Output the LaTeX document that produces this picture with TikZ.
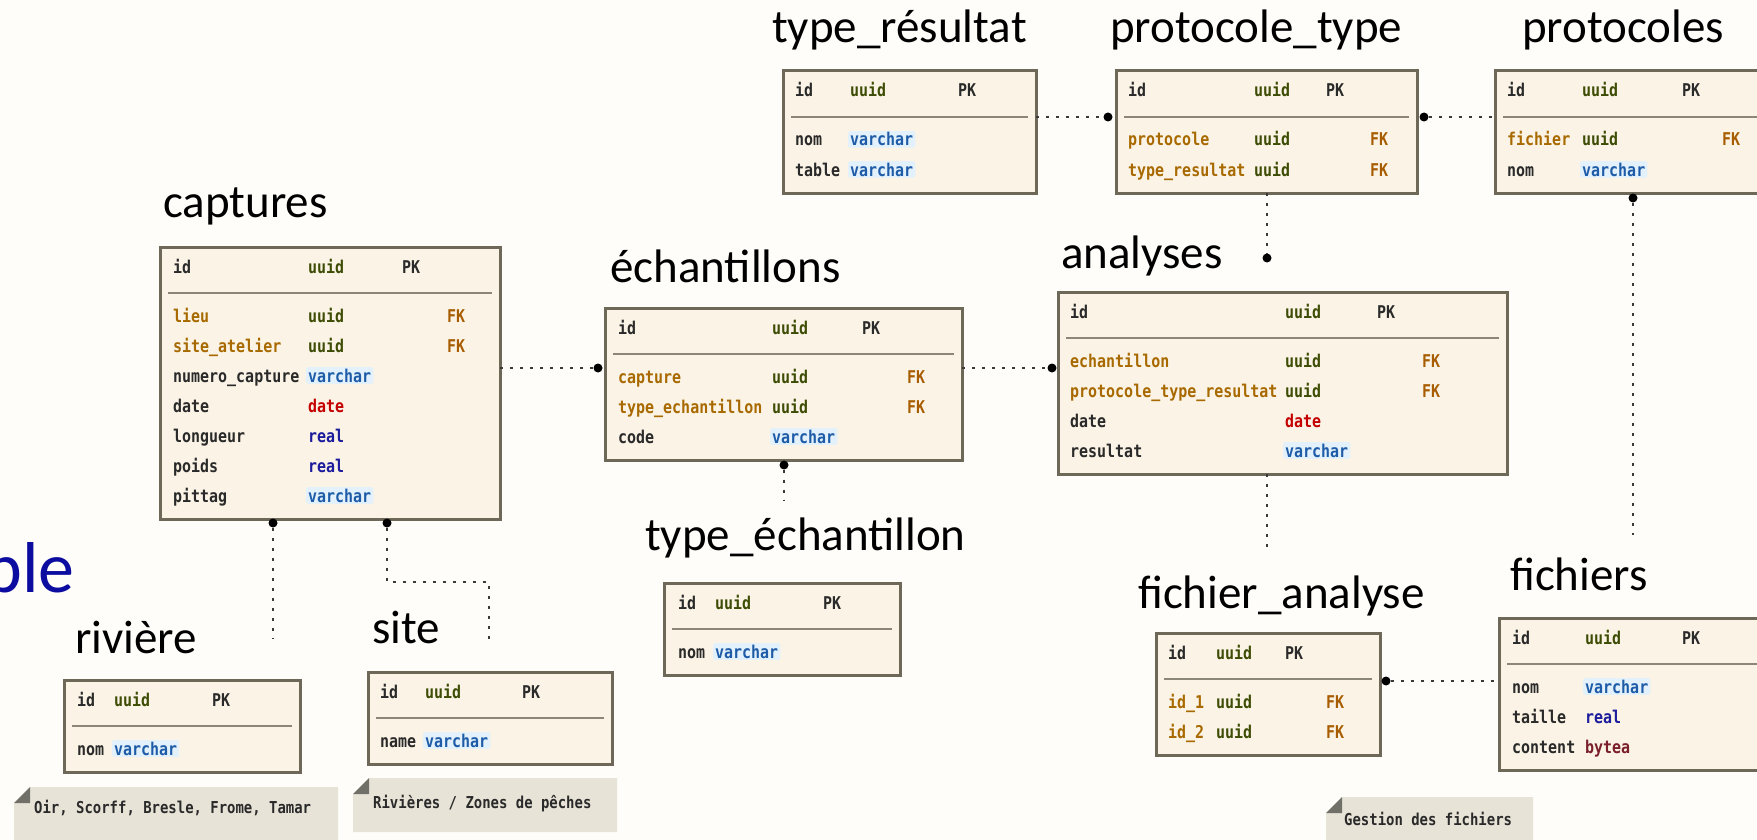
\documentclass[tikz,border=0pt]{standalone}
\usepackage{fontspec}
\setmainfont{Carlito}
\newfontfamily\tmono{DejaVu Sans Mono}[FakeStretch=0.85]
\usetikzlibrary{calc}

\definecolor{bgc}{HTML}{FEFDF9}
\definecolor{tblfill}{HTML}{FBF4E6}
\definecolor{tbldraw}{HTML}{6E6858}
\definecolor{sepc}{HTML}{8C8678}
\definecolor{fkname}{HTML}{A86A00}
\definecolor{uuidc}{HTML}{3E4D05}
\definecolor{pkc}{HTML}{2A2A2A}
\definecolor{fkc}{HTML}{A85C00}
\definecolor{varcharc}{HTML}{1F5CA8}
\definecolor{vglow}{HTML}{E2F1FB}
\definecolor{datec}{HTML}{C40000}
\definecolor{realc}{HTML}{1C1C9C}
\definecolor{byteac}{HTML}{7A1F2B}
\definecolor{notefill}{HTML}{E8E3D7}
\definecolor{notefold}{HTML}{707069}
\definecolor{conncol}{HTML}{3A3A3A}
\definecolor{slideblue}{HTML}{0C0CA0}

\newcounter{cellno}
% table frame with the separator under the key row
\newcommand\tablebox[5]{%
  \node[tbl, minimum width=#4pt, minimum height=#5pt] (#1) at (#2,#3) {};
  \draw[sepline] ($(#1.north west)+(8,46)$) -- ($(#1.north east)+(-8,46)$);}
% one text cell, placed from the table's top-left corner
\newcommand\cell[5]{\stepcounter{cellno}%
  \node[fld, text=#4] (cell\arabic{cellno}) at ($(#1.north west)+(#2,#3)$) {#5};}
% a varchar cell, with its light halo
\newcommand\vcell[3]{\stepcounter{cellno}%
  \node[fld, vch] (cell\arabic{cellno}) at ($(#1.north west)+(#2,#3)$) {varchar};}
% a field: name and type
\newcommand\frow[8]{\cell{#1}{#2}{#4}{#5}{#6}\cell{#1}{#3}{#4}{#7}{#8}}
% a field typed varchar
\newcommand\vrow[4]{\cell{#1}{#2}{#4}{pkc}{#3}\vcell{#1}{#3x}{#4}}
% a folded note
\newcommand\note[7]{%
  \fill[notefill] (#2+16,#3) -- (#4,#3) -- (#4,#5) -- (#2,#5) -- (#2,#3+16) -- cycle;
  \fill[notefold] (#2,#3+16) -- (#2+16,#3) -- (#2+16,#3+16) -- cycle;
  \node[notetxt] (#1) at (#6,#7) {\notetext};}

\begin{document}
\begin{tikzpicture}[x=1pt,y=-1pt,
  tbl/.style={draw=tbldraw, line width=3pt, fill=tblfill, inner sep=0pt, outer sep=0pt, anchor=north west},
  sepline/.style={draw=sepc, line width=2pt},
  fld/.style={font=\fontsize{17.6}{20}\selectfont\tmono\bfseries, anchor=base west, inner sep=0pt},
  vch/.style={text=varcharc, fill=vglow, inner xsep=2pt, inner ysep=1.5pt, xshift=-2pt, rounded corners=2pt},
  notetxt/.style={font=\fontsize{16.4}{19}\selectfont\tmono\bfseries, anchor=base west, inner sep=0pt, text=pkc},
  ttl/.style={font=\fontsize{47}{56}\selectfont, anchor=base west, inner sep=0pt, text=black},
  conn/.style={draw=conncol, line width=2pt, dash pattern=on 3pt off 7pt},
  dotnode/.style={circle, fill=black, inner sep=0pt, minimum size=9pt}]
\clip (0,0) rectangle (1757,840);
\fill[bgc] (0,0) rectangle (1757,840);

% end of the slide title, cut at the left edge
\node[font=\fontsize{72}{80}\selectfont, text=slideblue, anchor=base east, inner sep=0pt] (slidettl) at (75,592) {ble};

% ---- tables ----
\tablebox{captures}{160}{247}{340}{272}
\cell{captures}{13}{26}{pkc}{id}\cell{captures}{148}{26}{uuidc}{uuid}\cell{captures}{242}{26}{pkc}{PK}
\frow{captures}{13}{148}{75}{fkname}{lieu}{uuidc}{uuid}\cell{captures}{287}{75}{fkc}{FK}
\frow{captures}{13}{148}{105}{fkname}{site\_atelier}{uuidc}{uuid}\cell{captures}{287}{105}{fkc}{FK}
\cell{captures}{13}{135}{pkc}{numero\_capture}\vcell{captures}{148}{135}
\frow{captures}{13}{148}{165}{pkc}{date}{datec}{date}
\frow{captures}{13}{148}{195}{pkc}{longueur}{realc}{real}
\frow{captures}{13}{148}{225}{pkc}{poids}{realc}{real}
\cell{captures}{13}{255}{pkc}{pittag}\vcell{captures}{148}{255}

\tablebox{ech}{605}{308}{357}{152}
\cell{ech}{13}{26}{pkc}{id}\cell{ech}{167}{26}{uuidc}{uuid}\cell{ech}{257}{26}{pkc}{PK}
\frow{ech}{13}{167}{75}{fkname}{capture}{uuidc}{uuid}\cell{ech}{302}{75}{fkc}{FK}
\frow{ech}{13}{167}{105}{fkname}{type\_echantillon}{uuidc}{uuid}\cell{ech}{302}{105}{fkc}{FK}
\cell{ech}{13}{135}{pkc}{code}\vcell{ech}{167}{135}

\tablebox{analyses}{1058}{292}{449}{182}
\cell{analyses}{12}{26}{pkc}{id}\cell{analyses}{227}{26}{uuidc}{uuid}\cell{analyses}{319}{26}{pkc}{PK}
\frow{analyses}{12}{227}{75}{fkname}{echantillon}{uuidc}{uuid}\cell{analyses}{364}{75}{fkc}{FK}
\frow{analyses}{12}{227}{105}{fkname}{protocole\_type\_resultat}{uuidc}{uuid}\cell{analyses}{364}{105}{fkc}{FK}
\frow{analyses}{12}{227}{135}{pkc}{date}{datec}{date}
\cell{analyses}{12}{165}{pkc}{resultat}\vcell{analyses}{227}{165}

\tablebox{tresult}{783}{71}{253}{122}
\cell{tresult}{12}{26}{pkc}{id}\cell{tresult}{67}{26}{uuidc}{uuid}\cell{tresult}{175}{26}{pkc}{PK}
\cell{tresult}{12}{75}{pkc}{nom}\vcell{tresult}{67}{75}
\cell{tresult}{12}{105}{pkc}{table}\vcell{tresult}{67}{105}

\tablebox{ptype}{1116}{71}{301}{122}
\cell{ptype}{12}{26}{pkc}{id}\cell{ptype}{138}{26}{uuidc}{uuid}\cell{ptype}{210}{26}{pkc}{PK}
\frow{ptype}{12}{138}{75}{fkname}{protocole}{uuidc}{uuid}\cell{ptype}{254}{75}{fkc}{FK}
\frow{ptype}{12}{138}{105}{fkname}{type\_resultat}{uuidc}{uuid}\cell{ptype}{254}{105}{fkc}{FK}

\tablebox{protocoles}{1495}{71}{290}{122}
\cell{protocoles}{12}{26}{pkc}{id}\cell{protocoles}{87}{26}{uuidc}{uuid}\cell{protocoles}{187}{26}{pkc}{PK}
\frow{protocoles}{12}{87}{75}{fkname}{fichier}{uuidc}{uuid}\cell{protocoles}{227}{75}{fkc}{FK}
\cell{protocoles}{12}{105}{pkc}{nom}\vcell{protocoles}{87}{105}

\tablebox{techant}{664}{583}{236}{92}
\cell{techant}{14}{26}{pkc}{id}\cell{techant}{51}{26}{uuidc}{uuid}\cell{techant}{159}{26}{pkc}{PK}
\cell{techant}{14}{75}{pkc}{nom}\vcell{techant}{51}{75}

\tablebox{riviere}{64}{680}{236}{92}
\cell{riviere}{13}{26}{pkc}{id}\cell{riviere}{50}{26}{uuidc}{uuid}\cell{riviere}{148}{26}{pkc}{PK}
\cell{riviere}{13}{75}{pkc}{nom}\vcell{riviere}{50}{75}

\tablebox{site}{368}{672}{244}{92}
\cell{site}{12}{26}{pkc}{id}\cell{site}{57}{26}{uuidc}{uuid}\cell{site}{154}{26}{pkc}{PK}
\cell{site}{12}{75}{pkc}{name}\vcell{site}{57}{75}

\tablebox{fanalyse}{1156}{633}{224}{122}
\cell{fanalyse}{12}{26}{pkc}{id}\cell{fanalyse}{60}{26}{uuidc}{uuid}\cell{fanalyse}{129}{26}{pkc}{PK}
\frow{fanalyse}{12}{60}{75}{fkname}{id\_1}{uuidc}{uuid}\cell{fanalyse}{170}{75}{fkc}{FK}
\frow{fanalyse}{12}{60}{105}{fkname}{id\_2}{uuidc}{uuid}\cell{fanalyse}{170}{105}{fkc}{FK}

\tablebox{fichiers}{1499}{618}{290}{152}
\cell{fichiers}{13}{26}{pkc}{id}\cell{fichiers}{86}{26}{uuidc}{uuid}\cell{fichiers}{183}{26}{pkc}{PK}
\cell{fichiers}{13}{75}{pkc}{nom}\vcell{fichiers}{86}{75}
\frow{fichiers}{13}{86}{105}{pkc}{taille}{realc}{real}
\frow{fichiers}{13}{86}{135}{pkc}{content}{byteac}{bytea}

% ---- relation end points ----
\node[dotnode] (d1) at ($(ech.north west)+(-7,60)$) {};
\node[dotnode] (d2) at ($(analyses.north west)+(-6,76)$) {};
\node[dotnode] (d3) at ($(ech.south west)+(179,5)$) {};
\node[dotnode] (d4) at ($(captures.south west)+(113,4)$) {};
\node[dotnode] (d5) at ($(captures.south west)+(227,4)$) {};
\node[dotnode] (d6) at ($(ptype.north west)+(-8,46)$) {};
\node[dotnode] (d7) at ($(ptype.north east)+(7,46)$) {};
\node[dotnode] (d8) at ($(analyses.north west)+(209,-34)$) {};
\node[dotnode] (d10) at ($(protocoles.south west)+(138,5)$) {};
\node[dotnode] (d11) at ($(fanalyse.north east)+(6,48)$) {};
\coordinate (teEnd) at ($(techant.north west)+(120,-83)$);
\coordinate (rivEnd) at ($(riviere.north west)+(209,-42)$);
\coordinate (siteEnd) at ($(site.north west)+(121,-29)$);
\coordinate (faEnd) at ($(fanalyse.north west)+(111,-83)$);
\coordinate (fiEnd) at ($(fichiers.north west)+(134,-83)$);

% ---- relations ----
\draw[conn] ($(captures.north east)+(0,121)$) -- (d1);
\draw[conn] ($(ech.north east)+(0,60)$) -- (d2);
\draw[conn] (d3) -- (teEnd);
\draw[conn] (d4) -- (rivEnd);
\draw[conn] (d5) -- ($(d5)+(0,59)$) -| (siteEnd);
\draw[conn] ($(tresult.north east)+(0,46)$) -- (d6);
\draw[conn] (d7) -- ($(protocoles.north west)+(0,46)$);
\draw[conn] ($(ptype.south west)+(151,0)$) -- (d8);
\draw[conn] ($(analyses.south west)+(209,0)$) -- (faEnd);
\draw[conn] (d10) -- (fiEnd);
\draw[conn] (d11) -- ($(fichiers.north west)+(0,63)$);

% ---- table titles ----
\node[ttl] (tTres) at (772,43) {type\_résultat};
\node[ttl] (tPtype) at (1110,43) {protocole\_type};
\node[ttl] (tProto) at (1522,43) {protocoles};
\node[ttl] (tCap) at (163,218) {captures};
\node[ttl] (tEch) at (610,282) {échantillons};
\node[ttl] (tAna) at (1061,268) {analyses};
\node[ttl] (tTech) at (645,550) {type\_échantillon};
\node[ttl] (tRiv) at (75,653) {rivière};
\node[ttl] (tSite) at (372,643) {site};
\node[ttl] (tFan) at (1138,608) {fichier\_analyse};
\node[ttl] (tFic) at (1510,590) {fichiers};

% ---- notes ----
\def\notetext{Oir, Scorff, Bresle, Frome, Tamar}
\note{n1}{14}{787}{338}{845}{34}{813}
\def\notetext{Rivières / Zones de pêches}
\note{n2}{353}{778}{617}{832}{373}{808}
\def\notetext{Gestion des fichiers}
\note{n3}{1326}{797}{1533}{850}{1344}{825}
\end{tikzpicture}
\end{document}
